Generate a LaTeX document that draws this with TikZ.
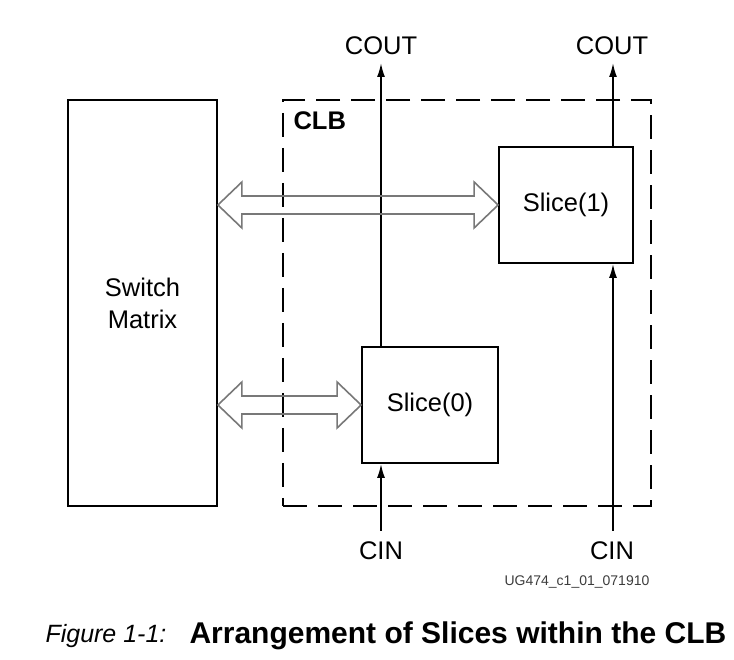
\documentclass[tikz,border=0pt]{standalone}
\usepackage{fontspec}
\setmainfont{Liberation Sans}
\usetikzlibrary{arrows.meta,calc}
\newcommand{\hollowarrow}[2]{%
  \draw[dblarrow] let \p1=(#1), \p2=(#2) in
    (\x1,\y1) -- (\x1+24pt,\y1+23pt) -- (\x1+24pt,\y1+9pt) -- (\x2-24pt,\y1+9pt)
    -- (\x2-24pt,\y1+23pt) -- (\x2,\y1) -- (\x2-24pt,\y1-23pt) -- (\x2-24pt,\y1-9pt)
    -- (\x1+24pt,\y1-9pt) -- (\x1+24pt,\y1-23pt) -- cycle;}
\begin{document}
\begin{tikzpicture}[x=1pt,y=1pt,
  every node/.style={font=\fontsize{25.5}{32}\selectfont},
  blockbox/.style={draw, line width=1.8pt, inner sep=0pt},
  clbbox/.style={draw, line width=1.8pt, dash pattern=on 24pt off 11pt, inner sep=0pt},
  carry/.style={line width=1.8pt, -{Latex[length=14pt,width=8pt]}},
  dblarrow/.style={draw={rgb,255:red,120;green,120;blue,120}, line width=1.6pt, line join=miter}
]
\useasboundingbox (0,0) rectangle (734,660);
% boxes
\node[blockbox, minimum width=149, minimum height=406, align=center] (sm) at (142.5,357) {Switch\\Matrix};
\node[clbbox, minimum width=368, minimum height=406] (clb) at (467,357) {};
\node[font=\fontsize{25.5}{32}\selectfont\bfseries, anchor=west] (clblabel) at (290,539) {CLB};
\node[blockbox, minimum width=134, minimum height=116] (s1) at (566,455) {Slice(1)};
\node[blockbox, minimum width=136, minimum height=116] (s0) at (430,255) {Slice(0)};
% carry labels and coordinates
\node (cout0) at (381,614) {COUT};
\node (cout1) at (612,614) {COUT};
\node (cin0) at (381,109) {CIN};
\node (cin1) at (612,109) {CIN};
\coordinate (c0top) at (381,597);
\coordinate (c1top) at (613,597);
\coordinate (c0bot) at (381,129);
\coordinate (c1bot) at (613,129);
% carry chains
\draw[carry] (s0.north -| c0top) -- (c0top);
\draw[carry] (s1.north -| c1top) -- (c1top);
\draw[carry] (c0bot) -- (s0.south -| c0bot);
\draw[carry] (c1bot) -- (s1.south -| c1bot);
% hollow double arrows
\hollowarrow{sm.east |- s1.west}{s1.west}
\hollowarrow{sm.east |- s0.west}{s0.west}
% id and caption
\node[font=\fontsize{14}{16}\selectfont, text={rgb,255:red,60;green,60;blue,60}] (ugid) at (577,78) {UG474\_c1\_01\_071910};
\node[font=\fontsize{25}{32}\selectfont\itshape, anchor=west] (capnum) at (42,24) {Figure 1-1:};
\node[font=\fontsize{30}{34}\selectfont\bfseries, anchor=west] (captext) at (186,24) {Arrangement of Slices within the CLB};
\end{tikzpicture}
\end{document}
